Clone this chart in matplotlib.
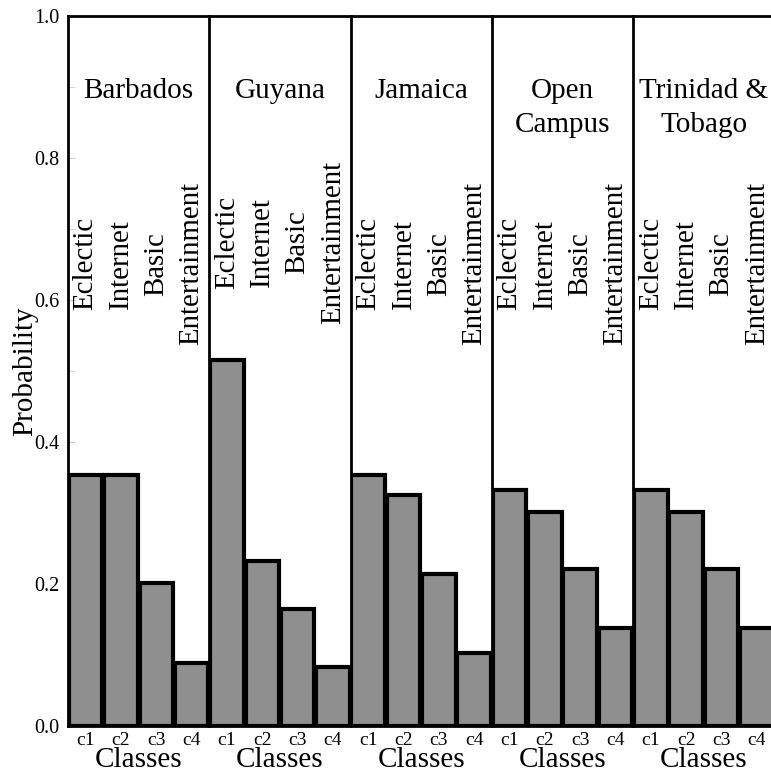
import matplotlib
matplotlib.use("Agg")
import matplotlib.pyplot as plt
from matplotlib.ticker import MultipleLocator


campuses = ["Barbados", "Guyana", "Jamaica", "Open\nCampus", "Trinidad &\nTobago"]
classes = ["c1", "c2", "c3", "c4"]
class_names = ["Eclectic", "Internet", "Basic", "Entertainment"]

barbados = [0.353, 0.353, 0.201, 0.089]
guyana = [0.516, 0.233, 0.165, 0.083]
jamaica = [0.353, 0.325, 0.214, 0.103]
open_campus = [0.333, 0.302, 0.221, 0.138]
trinidad = [0.333, 0.302, 0.221, 0.138]

series = [barbados, guyana, jamaica, open_campus, trinidad]

# where the vertical class names sit (axes data coords), per panel
name_y = [0.651, 0.681, 0.651, 0.651, 0.651]

plt.rcParams["font.family"] = ["Liberation Serif", "DejaVu Serif"]

W, H = 771, 775
fig = plt.figure(figsize=(W / 100, H / 100), dpi=100)

left_px, panel_px = 68, 141.3
top_px, bottom_px = 16, 726


def draw_panel(ax, idx, values):
    x = list(range(len(classes)))
    ax.bar(x, values, width=0.95, color="#8f8f8f", edgecolor="black",
           linewidth=3, zorder=2)
    ax.set_xlim(-0.5, 3.5)
    ax.set_ylim(0, 1.0)
    ax.set_xticks(x)
    ax.set_xticklabels(classes, fontsize=14)
    ax.tick_params(axis="x", length=0, pad=4)
    ax.set_xlabel("Classes", fontsize=21, labelpad=-1)

    for side in ("left", "top", "bottom"):
        ax.spines[side].set_linewidth(2)
    ax.spines["right"].set_visible(idx == len(series) - 1)

    ax.text(1.5, 0.912, campuses[idx], ha="center", va="top", fontsize=21,
            linespacing=1.4)
    for i, name in enumerate(class_names):
        ax.text(i, name_y[idx], name, rotation=90, ha="center", va="center",
                fontsize=20.8)

    if idx == 0:
        ax.yaxis.set_major_locator(MultipleLocator(0.2))
        ax.yaxis.set_minor_locator(MultipleLocator(0.1))
        ax.set_yticklabels([f"{v:.1f}" for v in ax.get_yticks()])
        ax.tick_params(axis="y", which="both", direction="in", length=5,
                       color="#d0d0d0", labelsize=14.5, pad=6)
        ax.set_ylabel("Probability", fontsize=21, labelpad=-3)
    else:
        ax.set_yticks([])


for idx, values in enumerate(series):
    rect = [
        (left_px + idx * panel_px) / W,
        1 - bottom_px / H,
        panel_px / W,
        (bottom_px - top_px) / H,
    ]
    ax = fig.add_axes(rect)
    draw_panel(ax, idx, values)

fig.savefig("out.png", dpi=100)
